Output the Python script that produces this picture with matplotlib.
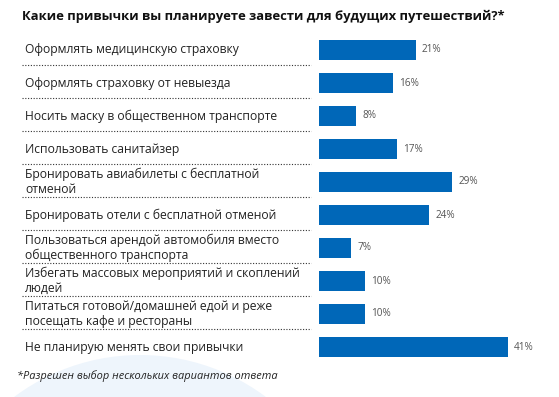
import matplotlib
matplotlib.use("Agg")
import matplotlib.pyplot as plt
from matplotlib.transforms import blended_transform_factory
from matplotlib.patches import Ellipse

categories = [
    "Оформлять медицинскую страховку",
    "Оформлять страховку от невыезда",
    "Носить маску в общественном транспорте",
    "Использовать санитайзер",
    "Бронировать авиабилеты с бесплатной\nотменой",
    "Бронировать отели с бесплатной отменой",
    "Пользоваться арендой автомобиля вместо\nобщественного транспорта",
    "Избегать массовых мероприятий и скоплений\nлюдей",
    "Питаться готовой/домашней едой и реже\nпосещать кафе и рестораны",
    "Не планирую менять свои привычки",
]
values = [21, 16, 8, 17, 29, 24, 7, 10, 10, 41]
title = "Какие привычки вы планируете завести для будущих путешествий?*"
footnote = "*Разрешен выбор нескольких вариантов ответа"

W, H = 559, 397
fig = plt.figure(figsize=(W / 100, H / 100), dpi=100)
fig.patch.set_facecolor("white")

# faint watermark circle
fig.patches.append(Ellipse((140 / W, 1 - 565 / H), 2 * 210 / W, 2 * 210 / H,
                           transform=fig.transFigure, facecolor="#EEF5FC",
                           edgecolor="none", zorder=0))

n = len(categories)
top_px, row_px = 33.5, 33
ax = fig.add_axes([319 / W, 1 - (top_px + row_px * n) / H, (W - 319) / W, row_px * n / H])
ax.set_facecolor("none")
ax.set_xlim(0, (W - 319) / 4.6)
ax.set_ylim(n - 0.5, -0.5)
ax.axis("off")

ypos = list(range(n))
ax.barh(ypos, values, height=0.6, color="#0067B8", zorder=2)
for y, v in zip(ypos, values):
    ax.annotate(f"{v}%", (v, y), xytext=(4.5, 0), textcoords="offset points",
                ha="left", va="center", fontsize=7.2, color="#555555", family="Open Sans")

tr = blended_transform_factory(fig.transFigure, ax.transData)
for y, c in zip(ypos, categories):
    fig.text(25 / W, y, c, transform=tr, ha="left", va="center", fontsize=8.7,
             color="#222222", family="Open Sans", linespacing=1.2)
for y in ypos[:-1]:
    ax.plot([22 / W, 311 / W], [y + 0.44, y + 0.44], transform=tr, clip_on=False,
            color="#333333", lw=0.8, ls=(0, (1, 1.5)))

fig.text(22 / W, 1 - 16.5 / H, title, ha="left", va="center", fontsize=9.35,
         fontweight="bold", color="#111111", family="Open Sans")
fig.text(17 / W, 1 - 376 / H, footnote, ha="left", va="center", fontsize=7.9,
         style="italic", color="#222222", family="Open Sans")

fig.savefig("out.png", dpi=100)
